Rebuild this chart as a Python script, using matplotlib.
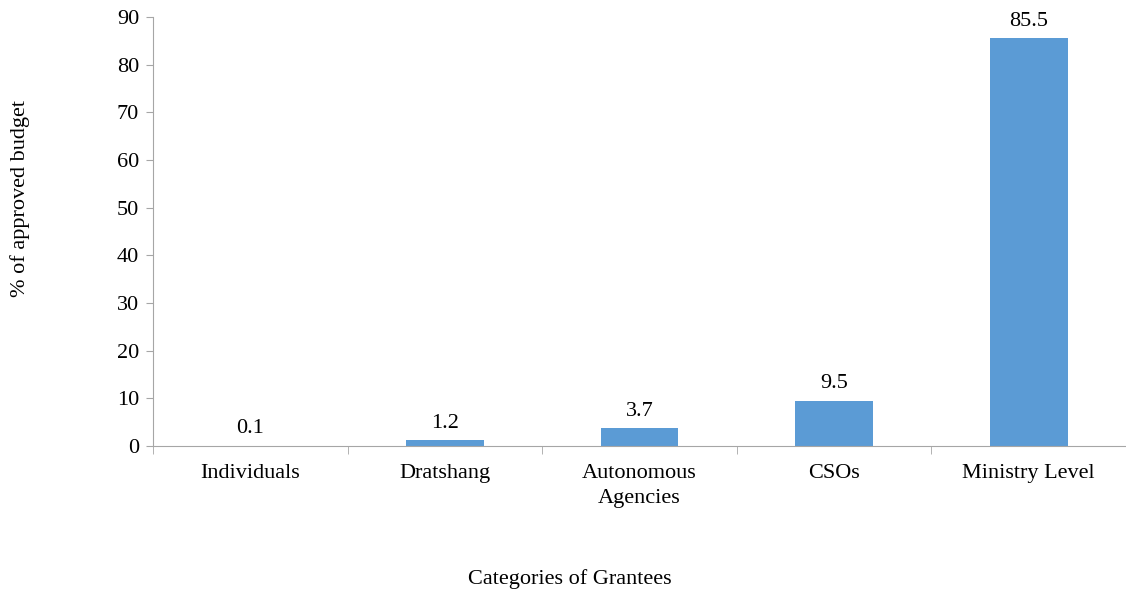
import matplotlib
matplotlib.use('Agg')
import matplotlib.pyplot as plt
import numpy as np

categories = ['Individuals', 'Dratshang', 'Autonomous\nAgencies', 'CSOs', 'Ministry Level']
shares = [0.1, 1.2, 3.7, 9.5, 85.5]
yticks = list(range(0, 91, 10))

plt.rcParams['font.family'] = ['Liberation Serif', 'DejaVu Serif']
fs = 16

fig = plt.figure(figsize=(11.26, 5.95), dpi=100)
ax = fig.add_axes([0.1359, 0.2504, 0.8641, 0.721])

x = np.arange(len(categories))
bars = ax.bar(x, shares, width=0.4, color='#5B9BD5')
for xi, v in zip(x, shares):
    ax.text(xi, v + 1.6, '{:.1f}'.format(v), ha='center', va='bottom', fontsize=fs)

ax.set_xlim(-0.5, len(categories) - 0.5)
ax.set_ylim(0, 90)
ax.set_yticks(yticks)
ax.tick_params(axis='y', labelsize=fs, length=5, color='#a6a6a6', direction='out', pad=5)

# category labels centred, ticks on the boundaries
ax.set_xticks(x)
ax.set_xticklabels(categories, fontsize=fs, linespacing=1.4)
ax.tick_params(axis='x', which='major', length=0, pad=13)
ax.set_xticks(np.arange(-0.5, len(categories) + 0.5, 1), minor=True)
ax.tick_params(axis='x', which='minor', length=6, color='#a6a6a6')

for s in ['top', 'right']:
    ax.spines[s].set_visible(False)
for s in ['left', 'bottom']:
    ax.spines[s].set_color('#a6a6a6')

fig.text(20 / 1126, 1 - 199 / 595, '% of approved budget', rotation=90,
         ha='center', va='center', fontsize=fs)
fig.text(570 / 1126, 1 - 579 / 595, 'Categories of Grantees',
         ha='center', va='center', fontsize=fs)

fig.savefig('out.png', dpi=100)
